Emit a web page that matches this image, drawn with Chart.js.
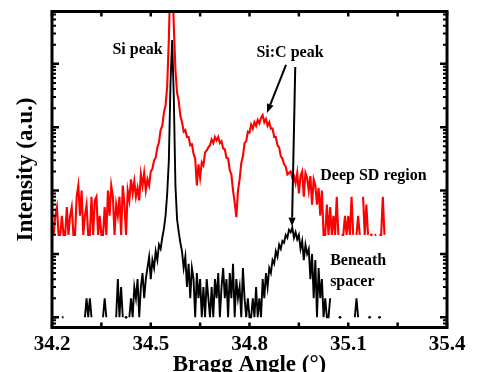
<!DOCTYPE html>
<html>
<head>
<meta charset="utf-8">
<script src="https://cdn.jsdelivr.net/npm/chart.js@4/dist/chart.umd.min.js"></script>
<style>
  html,body{margin:0;padding:0;background:#fff;}
  canvas{display:block;}
</style>
</head>
<body>
<canvas id="c" width="483" height="372"></canvas>
<script>
// ---- data ----
const xStep = 0.005;
const redStart = 34.205;
const redValues = [
  20,40,55,20,20,40,20,20,55,20,
  40,55,20,20,80,120,40,100,20,40,
  60,20,20,80,20,70,80,20,40,20,
  20,55,20,100,40,120,80,20,60,40,
  80,20,120,60,20,100,70,150,90,140,
  80,110,70,180,120,190,100,150,120,200,
  220,300,330,480,580,900,1050,1700,2200,4500,
  25000,300000,300000,40000,8000,3500,2600,1500,1200,850,
  900,700,700,520,540,380,320,120,260,160,
  280,250,400,430,480,520,640,560,700,620,
  700,560,600,460,450,330,320,210,180,100,
  65,38,100,150,270,350,560,600,850,820,
  1100,950,1200,1050,1300,1150,1400,1550,1200,1350,
  1050,1200,950,950,700,700,520,480,350,320,
  260,240,180,190,200,160,170,130,190,90,
  170,200,80,190,160,100,170,60,150,120,
  60,110,40,100,20,20,60,20,55,20,
  40,20,80,20,null,20,20,40,20,40,
  20,80,20,null,20,40,20,null,80,20,
  60,20,null,20,null,20,20,null,20,20,
  80,20
];
const blackStart = 34.205;
const blackValues = [
  null,1,null,null,null,1,1,null,null,null,
  null,null,null,null,null,null,null,null,null,1,
  2,1,2,1,null,null,null,null,null,null,
  1,2,1,null,null,null,null,null,1,4,
  1,3,1,null,1,null,1,2,1,3,
  2,4,1,3,5,2,4,6,9,4,
  8,6,11,8,14,12,18,25,40,90,
  300,5000,23800,3000,120,35,22,15,11,6,
  9,3,7,2,6,4,1,5,2,4,
  1,3,1,4,2,1,3,1,4,2,
  5,1,3,6,2,4,1,5,2,7,
  1,4,2,3,1,6,2,1,2,1,
  1,2,1,3,1,2,1,4,2,5,
  3,6,5,8,7,11,9,14,12,16,
  15,20,18,24,22,26,18,22,17,20,
  12,16,8,14,10,12,4,10,2,8,
  1,6,2,4,1,2,1,1,2,null,
  null,null,null,null,1,null,null,null,null,null,
  null,null,null,1,2,1,null,null,null,null,
  null,null,1,null,null,null,null,null,1,null
];
const xTickLabels = ['34.2','34.5','34.8','35.1','35.4'];
const xTitle = 'Bragg Angle (\u00B0)';
const yTitle = 'Intensity (a.u.)';
const labels = [
  {text:'Si peak', x:34.460, y:14300, align:'center'},
  {text:'Si:C peak', x:34.923, y:12850, align:'center'},
  {text:'Deep SD region', x:35.015, y:147, align:'left'},
  {text:'Beneath', x:35.045, y:6.7, align:'left'},
  {text:'spacer', x:35.045, y:3.1, align:'left'}
];
const arrows = [
  {x1:34.911, y1:9600, x2:34.853, y2:1680},
  {x1:34.939, y1:8900, x2:34.929, y2:27}
];

// ---- build datasets ----
function toPoints(start, vals){
  return vals.map((v,i)=>({x: +(start + i*xStep).toFixed(3), y: v}));
}
function isolatedRadius(vals){
  return (c)=>{
    const i = c.dataIndex;
    if (vals[i]==null) return 0;
    const prev = i>0 ? vals[i-1] : null;
    const next = i<vals.length-1 ? vals[i+1] : null;
    return (prev==null && next==null) ? 1.4 : 0;
  };
}

const FONT = '"Liberation Serif", "Times New Roman", serif';

const framePlugin = {
  id: 'framePlugin',
  afterDatasetsDraw(chart){
    const {ctx, chartArea:a, scales:{x, y}} = chart;
    ctx.save();
    ctx.strokeStyle = '#000';
    ctx.fillStyle = '#000';
    // arrows
    ctx.lineWidth = 2;
    arrows.forEach(ar=>{
      const px1 = x.getPixelForValue(ar.x1), py1 = y.getPixelForValue(ar.y1);
      const px2 = x.getPixelForValue(ar.x2), py2 = y.getPixelForValue(ar.y2);
      const ang = Math.atan2(py2-py1, px2-px1);
      const hl = 9, hw = 3.5;
      const bx = px2 - hl*Math.cos(ang), by = py2 - hl*Math.sin(ang);
      ctx.beginPath(); ctx.moveTo(px1,py1); ctx.lineTo(bx,by); ctx.stroke();
      ctx.beginPath();
      ctx.moveTo(px2,py2);
      ctx.lineTo(bx + hw*Math.sin(ang), by - hw*Math.cos(ang));
      ctx.lineTo(bx - hw*Math.sin(ang), by + hw*Math.cos(ang));
      ctx.closePath(); ctx.fill();
    });
    // frame
    ctx.lineWidth = 3;
    ctx.strokeRect(a.left, a.top, a.right-a.left, a.bottom-a.top);
    // x ticks (bottom & top, inward)
    ctx.lineWidth = 2.5;
    x.ticks.forEach(t=>{
      const px = x.getPixelForValue(t.value);
      ctx.beginPath();
      ctx.moveTo(px, a.bottom); ctx.lineTo(px, a.bottom-5);
      ctx.moveTo(px, a.top); ctx.lineTo(px, a.top+5);
      ctx.stroke();
    });
    // y ticks (log decades + minors, left & right, inward)
    for (let e=-1; e<=5; e++){
      for (let m=1; m<=9; m++){
        const v = m*Math.pow(10,e);
        if (v < y.min || v > y.max) continue;
        const py = y.getPixelForValue(v);
        const len = m===1 ? 7 : 4;
        ctx.lineWidth = m===1 ? 2.5 : 2;
        ctx.beginPath();
        ctx.moveTo(a.left, py); ctx.lineTo(a.left+len, py);
        ctx.moveTo(a.right, py); ctx.lineTo(a.right-len, py);
        ctx.stroke();
      }
    }
    // annotation labels
    ctx.font = 'bold 16px ' + FONT;
    ctx.textBaseline = 'alphabetic';
    labels.forEach(l=>{
      ctx.textAlign = l.align;
      ctx.fillText(l.text, x.getPixelForValue(l.x), y.getPixelForValue(l.y));
    });
    // axis titles
    ctx.font = 'bold 23px ' + FONT;
    ctx.textAlign = 'center';
    ctx.fillText(xTitle, (a.left+a.right)/2, 371);
    ctx.save();
    ctx.translate(32, (a.top+a.bottom)/2);
    ctx.rotate(-Math.PI/2);
    ctx.fillText(yTitle, 0, 0);
    ctx.restore();
    ctx.restore();
  }
};

new Chart(document.getElementById('c'), {
  type: 'line',
  data: {
    datasets: [
      {
        label: 'Beneath spacer',
        data: toPoints(blackStart, blackValues),
        borderColor: '#000000',
        backgroundColor: '#000000',
        borderWidth: 1.9,
        pointRadius: isolatedRadius(blackValues),
        pointBorderWidth: 0,
        tension: 0,
        spanGaps: false
      },
      {
        label: 'Deep SD region',
        data: toPoints(redStart, redValues),
        borderColor: '#ff0000',
        backgroundColor: '#ff0000',
        borderWidth: 2.1,
        pointRadius: isolatedRadius(redValues),
        pointBorderWidth: 0,
        tension: 0,
        spanGaps: false
      }
    ]
  },
  options: {
    responsive: false,
    animation: false,
    devicePixelRatio: 1,
    layout: {padding: {left: 52, right: 36, top: 11.5, bottom: 0}},
    plugins: {legend: {display: false}, tooltip: {enabled: false}},
    scales: {
      x: {
        type: 'linear',
        min: 34.2, max: 35.4,
        grid: {display: false, drawTicks: false},
        border: {display: false},
        ticks: {
          stepSize: 0.15,
          autoSkip: false,
          maxRotation: 0,
          padding: 4,
          color: '#000',
          font: {family: FONT, size: 21, weight: 'bold'},
          callback: (v, i) => (i % 2 === 0 ? xTickLabels[i/2] : '')
        },
        afterFit: (s) => { s.height = 44.5; }
      },
      y: {
        type: 'logarithmic',
        display: false,
        min: 0.69, max: 67000
      }
    }
  },
  plugins: [framePlugin]
});
</script>
</body>
</html>
